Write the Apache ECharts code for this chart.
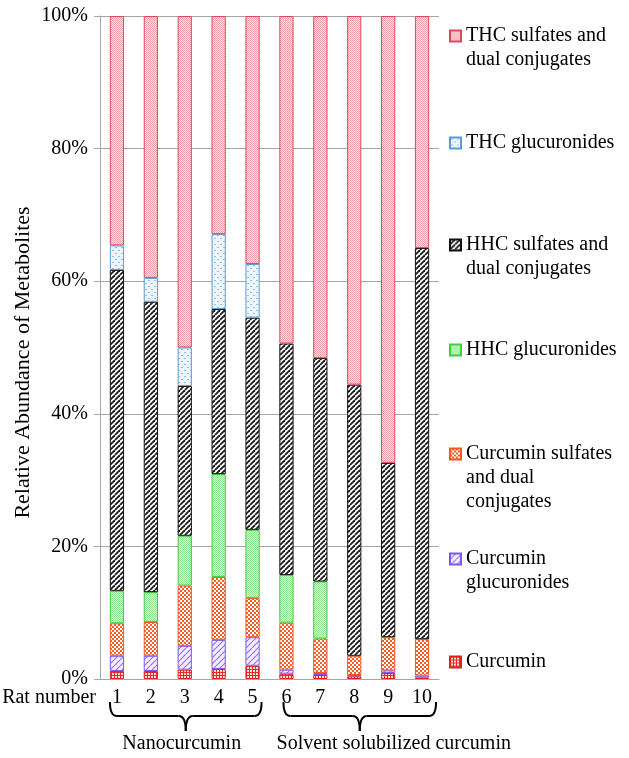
<!DOCTYPE html>
<html><head><meta charset="utf-8">
<script src="https://cdn.jsdelivr.net/npm/echarts@6/dist/echarts.min.js"></script>
<style>html,body{margin:0;padding:0;background:#fff}#c{width:629px;height:758px}</style>
</head><body><div id="c"></div>
<script>
// ---------- data ----------
const categories = ['1','2','3','4','5','6','7','8','9','10'];
const seriesNames = [
  'Curcumin',
  'Curcumin glucuronides',
  'Curcumin sulfates and dual conjugates',
  'HHC glucuronides',
  'HHC sulfates and dual conjugates',
  'THC glucuronides',
  'THC sulfates and dual conjugates'
];
const legendLabels = [
  'Curcumin',
  'Curcumin\nglucuronides',
  'Curcumin sulfates\nand dual\nconjugates',
  'HHC glucuronides',
  'HHC sulfates and\ndual conjugates',
  'THC glucuronides',
  'THC sulfates and\ndual conjugates'
];
const curcumin      = [1.2, 1.2, 1.4, 1.5, 2.0, 0.8, 0.6, 0.4, 0.9, 0.2];
const curcuminGluc  = [2.3, 2.3, 3.6, 4.4, 4.3, 0.6, 0.3, 0.2, 0.4, 0.3];
const curcuminSulf  = [4.9, 5.1, 9.1, 9.5, 5.9, 7.1, 5.2, 2.9, 5.0, 5.5];
const hhcGluc       = [4.9, 4.5, 7.5, 15.5, 10.3, 7.2, 8.6, null, null, null];
const hhcSulf       = [48.4, 43.8, 22.6, 24.9, 32.0, 34.9, 33.7, 40.9, 26.3, 59.0];
const thcGluc       = [3.7, 3.6, 5.8, 11.3, 8.1, null, null, null, null, null];
const thcSulf       = [34.6, 39.5, 50.0, 32.9, 37.4, 49.4, 51.6, 55.6, 67.4, 35.0];
const yTickLabels   = ['0%','20%','40%','60%','80%','100%'];
const groupLabels   = ['Nanocurcumin', 'Solvent solubilized curcumin'];
const groupRanges   = [['1','5'], ['6','10']];
const xAxisName     = 'Rat number';
const yAxisName     = 'Relative Abundance of Metabolites';

// ---------- patterns ----------
function pat(w, h, draw) {
  const c = document.createElement('canvas');
  c.width = w; c.height = h;
  const g = c.getContext('2d');
  draw(g, w, h);
  return { image: c, repeat: 'repeat' };
}
const patterns = [
  pat(3, 3, (g) => { g.fillStyle = '#e62a2a'; g.fillRect(0,0,3,3); g.fillStyle = '#fde0e0'; g.fillRect(1,1,2,2); }),
  pat(6, 6, (g) => { g.fillStyle = '#f3efff'; g.fillRect(0,0,6,6); g.strokeStyle = '#9272f0'; g.lineWidth = 1.2;
    for (const k of [-6, 0, 6]) { g.beginPath(); g.moveTo(k, 6); g.lineTo(k + 6, 0); g.stroke(); } }),
  pat(4, 4, (g) => { g.fillStyle = '#f2602c'; g.fillRect(0,0,4,4); g.fillStyle = '#ffffff'; g.fillRect(0,0,2,2); g.fillRect(2,2,2,2); }),
  pat(2, 2, (g) => { g.fillStyle = '#d6f9d6'; g.fillRect(0,0,2,2); g.fillStyle = '#8fea8f'; g.fillRect(0,0,1,1); g.fillRect(1,1,1,1); }),
  pat(5, 5, (g) => { g.fillStyle = '#ffffff'; g.fillRect(0,0,5,5); g.strokeStyle = '#1a1a1a'; g.lineWidth = 1.8;
    for (const k of [-5, 0, 5]) { g.beginPath(); g.moveTo(k, 5); g.lineTo(k + 5, 0); g.stroke(); } }),
  pat(6, 6, (g) => { g.fillStyle = '#eef5fc'; g.fillRect(0,0,6,6); g.fillStyle = '#8dbfea'; g.fillRect(1,1,2,1); g.fillRect(4,4,2,1); }),
  pat(2, 2, (g) => { g.fillStyle = '#fde2e5'; g.fillRect(0,0,2,2); g.fillStyle = '#f09ea7'; g.fillRect(0,0,1,1); g.fillRect(1,1,1,1); })
];
const borders = ['#e21e1e', '#7d58ef', '#f0581f', '#3ccf3c', '#111111', '#5b9bd5', '#e0475a'];
const seriesData = [curcumin, curcuminGluc, curcuminSulf, hhcGluc, hhcSulf, thcGluc, thcSulf];

const FONT = "'Liberation Serif', 'Times New Roman', serif";
const FS = 20;
const LH = 24;

// legend first-line centers (top to bottom)
const legendOrder = [6, 5, 4, 3, 2, 1, 0];
const legendCenters = [34, 141, 243, 348, 452, 557, 660];

const legends = legendOrder.map((si, i) => {
  const lines = legendLabels[si].split('\n');
  const n = lines.length;
  // prepend (n-1) blank lines so the icon lines up with the first text line
  const txt = new Array(n - 1).fill(' ').concat(lines).join('\n');
  return {
    data: [seriesNames[si]],
    left: 449,
    top: legendCenters[i] + 2 - (2 * n - 1) * LH / 2,
    padding: 0,
    itemWidth: 11,
    itemHeight: 11,
    itemGap: 0,
    selectedMode: false,
    icon: 'rect',
    formatter: () => txt,
    textStyle: { fontFamily: FONT, fontSize: FS, color: '#000', lineHeight: LH }
  };
});

const chart = echarts.init(document.getElementById('c'), null, { renderer: 'canvas' });
chart.setOption({
  animation: false,
  backgroundColor: '#ffffff',
  textStyle: { fontFamily: FONT },
  grid: { left: 100, right: 190, top: 16, bottom: 79, containLabel: false, outerBoundsMode: 'none' },
  legend: legends,
  xAxis: {
    type: 'category',
    data: categories,
    name: xAxisName,
    nameLocation: 'start',
    nameGap: 4,
    nameMoveOverlap: false,
    nameTextStyle: { fontFamily: FONT, fontSize: FS, color: '#000', verticalAlign: 'top', padding: [9, 0, 0, 0] },
    axisLine: { lineStyle: { color: '#a6a6a6', width: 1 } },
    axisTick: { show: false },
    axisLabel: { fontFamily: FONT, fontSize: FS, color: '#000', margin: 9 }
  },
  yAxis: {
    type: 'value',
    min: 0, max: 100, interval: 20,
    name: yAxisName,
    nameLocation: 'middle',
    nameGap: 66,
    nameMoveOverlap: false,
    nameTextStyle: { fontFamily: FONT, fontSize: 22, color: '#000', padding: [0, 30, 0, 0] },
    axisLine: { show: true, lineStyle: { color: '#a6a6a6', width: 1 } },
    axisTick: { show: true, length: 6, lineStyle: { color: '#a6a6a6' } },
    axisLabel: { fontFamily: FONT, fontSize: FS, color: '#000', margin: 12,
      formatter: (v) => yTickLabels[Math.round(v / 20)] },
    splitLine: { lineStyle: { color: '#a6a6a6', width: 1 } }
  },
  series: seriesNames.map((name, i) => ({
    name,
    type: 'bar',
    stack: 'total',
    barWidth: '42%',
    data: seriesData[i],
    itemStyle: { color: patterns[i], borderColor: borders[i], borderWidth: 1 },
    emphasis: { disabled: true }
  }))
});

// ---------- group braces ----------
const braceStyle = { stroke: '#000', lineWidth: 2, fill: null };
function braceParts(x1, x2, xm, y0, y1, y2) {
  const r = 7;
  const q = (ax, ay, cx, cy, bx, by) => ({ type: 'bezierCurve', silent: true, style: braceStyle,
    shape: { x1: ax, y1: ay, cpx1: cx, cpy1: cy, x2: bx, y2: by } });
  const l = (ax, ay, bx, by) => ({ type: 'line', silent: true, style: braceStyle,
    shape: { x1: ax, y1: ay, x2: bx, y2: by } });
  return [
    q(x1, y0, x1, y1, x1 + r, y1),
    l(x1 + r, y1, xm - r, y1),
    q(xm - r, y1, xm, y1, xm, y2),
    q(xm, y2, xm, y1, xm + r, y1),
    l(xm + r, y1, x2 - r, y1),
    q(x2 - r, y1, x2, y1, x2, y0)
  ];
}
const graphics = [];
groupRanges.forEach((rg, i) => {
  const a = chart.convertToPixel({ xAxisIndex: 0 }, rg[0]);
  const b = chart.convertToPixel({ xAxisIndex: 0 }, rg[1]);
  const x1 = i === 0 ? a - 7 : a - 3;
  const x2 = i === 0 ? b + 9 : b + 14;
  const xm = (x1 + x2) / 2;
  braceParts(x1, x2, xm, 702, 716, 731).forEach(p => graphics.push(p));
  graphics.push({
    type: 'text',
    x: i === 0 ? xm - 4 : xm + 34,
    y: 744,
    style: { text: groupLabels[i], fontFamily: FONT, fontSize: FS, fill: '#000', align: 'center', verticalAlign: 'middle' },
    silent: true
  });
});
chart.setOption({ graphic: graphics });
</script>
</body></html>
